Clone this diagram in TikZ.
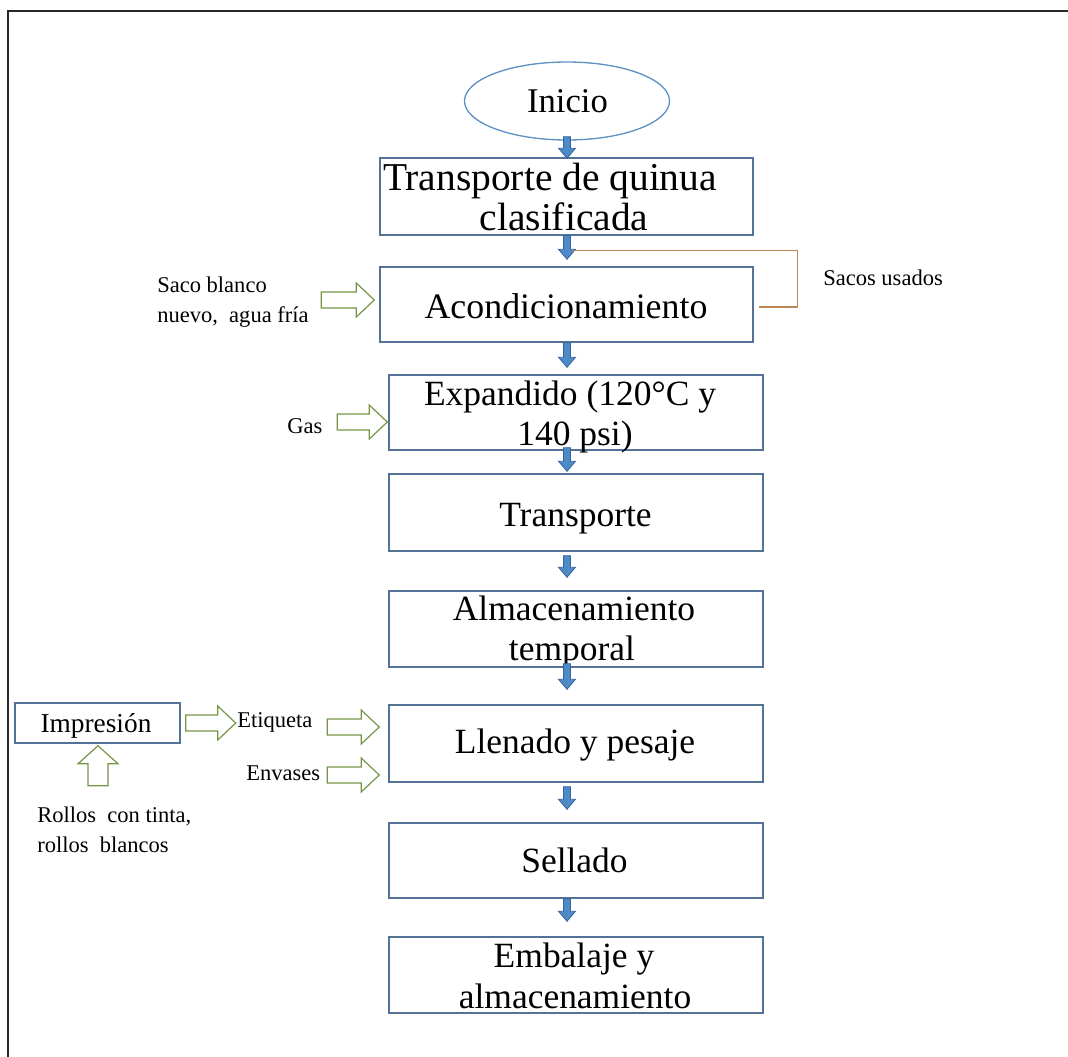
\documentclass[tikz,border=0pt]{standalone}
\usepackage{fontspec}
\setmainfont{Liberation Serif}
\usetikzlibrary{calc,shapes.geometric}

\definecolor{boxline}{RGB}{84,114,150}
\definecolor{ovalline}{RGB}{95,145,195}
\definecolor{flowfill}{RGB}{78,138,200}
\definecolor{flowline}{RGB}{52,100,158}
\definecolor{inputline}{RGB}{118,150,70}
\definecolor{wasteline}{RGB}{190,135,85}
\definecolor{framecol}{RGB}{40,40,40}

\newcommand{\sz}[1]{\fontsize{#1}{1.15\dimexpr #1\relax}\selectfont}

\tikzset{
  stepbox/.style={draw=boxline, line width=1.1pt, rectangle, inner sep=0pt},
  startoval/.style={draw=ovalline, line width=1pt, ellipse, inner sep=0pt},
  boxtext/.style={anchor=base, inner sep=0pt, text=black, font=\sz{26.6pt}},
  sidetext/.style={anchor=base west, inner sep=0pt, text=black, font=\sz{16.9pt}},
  % small solid blue block arrow pointing down
  flowarrow/.style={fill=flowfill, draw=flowline, line width=0.6pt,
    to path={let \p1=(\tikztostart), \p2=(\tikztotarget) in
      (\x1-2.625pt,\y1) -- (\x1+2.625pt,\y1) -- (\x1+2.625pt,\y2+7.5pt)
      -- (\x1+6.375pt,\y2+7.5pt) -- (\x1,\y2) -- (\x1-6.375pt,\y2+7.5pt)
      -- (\x1-2.625pt,\y2+7.5pt) -- cycle}},
  % hollow green block arrow pointing right
  inright/.style={fill=white, draw=inputline, line width=0.9pt,
    to path={let \p1=(\tikztostart), \p2=(\tikztotarget) in
      (\x1,\y1+6pt) -- (\x2-13.5pt,\y1+6pt) -- (\x2-13.5pt,\y1+12.75pt)
      -- (\x2,\y1) -- (\x2-13.5pt,\y1-12.75pt) -- (\x2-13.5pt,\y1-6pt)
      -- (\x1,\y1-6pt) -- cycle}},
  % hollow green block arrow pointing up
  inup/.style={fill=white, draw=inputline, line width=0.9pt,
    to path={let \p1=(\tikztostart), \p2=(\tikztotarget) in
      (\x1-7.5pt,\y1) -- (\x1-7.5pt,\y2-13.5pt) -- (\x1-15pt,\y2-13.5pt)
      -- (\x1,\y2) -- (\x1+15pt,\y2-13.5pt) -- (\x1+7.5pt,\y2-13.5pt)
      -- (\x1+7.5pt,\y1) -- cycle}},
  wasteconn/.style={draw=wasteline, line width=1.1pt},
}

\begin{document}
\begin{tikzpicture}[x=0.75pt, y=-0.75pt]
\useasboundingbox (0,0) rectangle (1068,1057);

% outer frame
\draw[framecol, line width=1.6pt] (8,1057) -- (8,11) -- (1068,11);

\coordinate (axis) at (567,0);

% main process steps
\node[startoval, minimum width=153.75pt, minimum height=58.5pt] (b0) at (567,101) {};
\node[stepbox, minimum width=279.75pt, minimum height=57.75pt] (b1) at (566.5,196.5) {};
\node[stepbox, minimum width=279.75pt, minimum height=56.25pt] (b2) at (566.5,304.5) {};
\node[stepbox, minimum width=280.5pt, minimum height=56.25pt] (b3) at (576,412.5) {};
\node[stepbox, minimum width=280.5pt, minimum height=57.75pt] (b4) at (576,512.5) {};
\node[stepbox, minimum width=280.5pt, minimum height=57pt] (b5) at (576,629) {};
\node[stepbox, minimum width=280.5pt, minimum height=57.75pt] (b6) at (576,743.5) {};
\node[stepbox, minimum width=280.5pt, minimum height=56.25pt] (b7) at (576,860.5) {};
\node[stepbox, minimum width=280.5pt, minimum height=57pt] (b8) at (576,975) {};
\node[stepbox, minimum width=123.75pt, minimum height=30pt] (imp) at (97.5,723) {};

% step labels
\node[boxtext, font=\sz{26pt}] (t0) at (567.5,112) {Inicio};
\node[boxtext, font=\sz{29.6pt}] (t1a) at (550,190) {Transporte de quinua};
\node[boxtext, font=\sz{29.6pt}] (t1b) at (564,230) {clasificada};
\node[boxtext, font=\sz{26.9pt}] (t2) at (566,318) {Acondicionamiento};
\node[boxtext] (t3a) at (570,405) {Expandido (120°C y};
\node[boxtext] (t3b) at (575,445) {140 psi)};
\node[boxtext] (t4) at (575.5,526) {Transporte};
\node[boxtext] (t5a) at (574,620) {Almacenamiento};
\node[boxtext] (t5b) at (572,660) {temporal};
\node[boxtext] (t6) at (575,753) {Llenado y pesaje};
\node[boxtext] (t7) at (574.5,872) {Sellado};
\node[boxtext] (t8a) at (574,967) {Embalaje y};
\node[boxtext] (t8b) at (575,1008) {almacenamiento};
\node[boxtext, font=\sz{20.5pt}] (timp) at (96,732) {Impresión};

% inputs and outputs
\node[sidetext] (saco1) at (157,292) {Saco blanco};
\node[sidetext] (saco2) at (157,322) {nuevo,\ \ agua fría};
\node[sidetext] (gas) at (287,433) {Gas};
\node[sidetext] (etiq) at (237,727) {Etiqueta};
\node[sidetext] (envs) at (246,780) {Envases};
\node[sidetext] (sacos) at (823,285) {Sacos usados};
\node[sidetext] (rol1) at (37,822) {Rollos\ \ con tinta,};
\node[sidetext] (rol2) at (37,852) {rollos\ \ blancos};

% flow arrows between steps
\draw[flowarrow] ($(b0.south -| axis)+(0,-4)$) to ($(b1.north -| axis)+(0,1)$);
\draw[flowarrow] (b1.south -| axis) to ($(b2.north -| axis)+(0,-7)$);
\draw[flowarrow] (b2.south -| axis) to ($(b3.north -| axis)+(0,-7)$);
\draw[flowarrow] ($(b3.south -| axis)+(0,-3)$) to ($(b4.north -| axis)+(0,-2)$);
\draw[flowarrow] ($(b4.south -| axis)+(0,4)$) to ($(b5.north -| axis)+(0,-13)$);
\draw[flowarrow] ($(b5.south -| axis)+(0,-4)$) to ($(b6.north -| axis)+(0,-15)$);
\draw[flowarrow] ($(b6.south -| axis)+(0,4)$) to ($(b7.north -| axis)+(0,-13)$);
\draw[flowarrow] (b7.south -| axis) to ($(b8.north -| axis)+(0,-15)$);

% used sacks leaving the conditioning step
\draw[wasteconn] ($(b1.south -| axis)+(5,15)$) -| ($(b2.east)+(44,2.5)$) -- ($(b2.east)+(5,2.5)$);

% material inputs
\draw[inright] ($(b2.west)+(-58,-4.5)$) to ($(b2.west)+(-5,-4.5)$);
\draw[inright] ($(b3.west)+(-51,9.5)$) to ($(b3.west)+(-1,9.5)$);
\draw[inright] ($(imp.east)+(5,0)$) to ($(imp.east)+(55,0)$);
\draw[inright] ($(b6.west)+(-61,-16.5)$) to ($(b6.west)+(-9,-16.5)$);
\draw[inright] ($(b6.west)+(-61,31.5)$) to ($(b6.west)+(-9,31.5)$);
\draw[inup] ($(imp.south)+(0.5,42)$) to ($(imp.south)+(0.5,2)$);
\end{tikzpicture}
\end{document}
